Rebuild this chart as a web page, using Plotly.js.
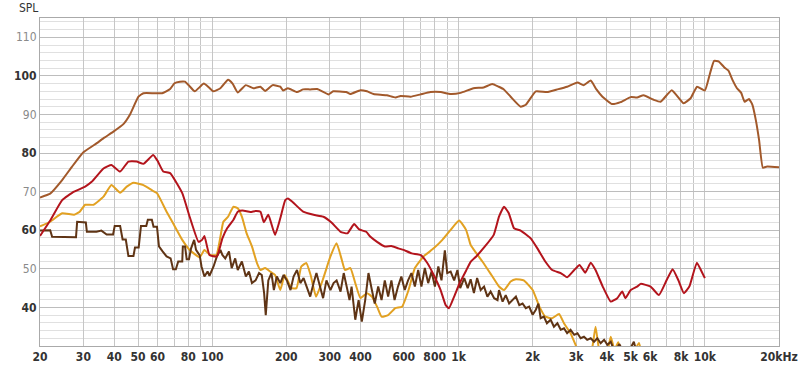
<!DOCTYPE html>
<html>
<head>
<meta charset="utf-8">
<script src="https://cdn.plot.ly/plotly-3.0.1.min.js"></script>
<style>html,body{margin:0;padding:0;background:#fff;}#chart{width:800px;height:370px;}</style>
</head>
<body>
<div id="chart"></div>
<script>
// ---- data ----
const freqA = [20,22,24.6,27,30,33.9,36.5,39.6,43.6,46.4,50.2,52.6,58,62.6,67.5,70.3,74,77.5,80.5,85,92.5,97,101,108,116,121,127,137,147,157,164,176,189,194,203,221,234,250,267,297,310,350,364,400,425,452,482,512,555,582,639,701,770,846,929,1020,1150,1265,1370,1455,1520,1628,1788,1875,2060,2285,2520,2760,3040,3220,3440,3630,3840,4200,4550,5000,5310,5640,6200,6614,7340,8200,8754,9300,10000,10500,10900,11400,12000,12450,12960,13500,14050,14500,15100,15600,16100,16600,17200,17900,20000];
const splA  = [68.5,69.5,73,76.5,80.2,82.5,84,85.5,87.5,90,94.6,95.5,95.5,95.5,96.6,98.1,98.5,98.5,97.5,96,98,97,96,96.8,99,98,95.7,97.6,96.8,97.2,96.1,97.6,97.2,96.2,96.8,95.8,96.5,96.5,96.6,95.2,96,95.8,95.3,96.3,96,95.3,95.1,95,94.4,94.8,94.6,95.2,95.8,95.8,95.3,95.6,96.8,97,97.9,97.2,96.6,94.6,92,92.5,96,95.8,96.5,97.2,98.3,97.6,98.8,96.5,94.6,92.7,93.2,94.5,94.4,95,93.8,93.3,96.3,92.9,94.2,97.2,96.2,100.7,103.9,103.7,102.2,101.4,98.9,96.8,95.6,93.3,94,92.5,88.6,83.4,76.2,76.5,76.3];

const freqB = [20,22,24.6,27.5,30.5,32.5,36.2,39,42.3,45.7,49.4,52.6,57.6,60,63.3,67.5,75.6,81,88,91,93,97.5,104.5,110,115,122,127,133,143,150,157,162,169,180,189,198,203,213,234,258,283,305,332,354,377,395,422,439,467,502,534,570,599,646,701,747,793,846,887,915,960,1006,1073,1120,1180,1280,1390,1460,1530,1600,1680,1788,1963,2090,2250,2400,2600,2760,2950,3100,3270,3440,3600,3850,4150,4410,4620,4760,5000,5310,5490,6024,6510,7000,7400,7800,8220,8650,9280,9700,10000];
const splB  = [58.5,62.5,67.8,70,71.3,72.6,76,76.9,75.2,77.8,77.8,77.2,79.5,78,75.2,74.8,69.6,63.5,57,57.5,58.5,53.6,53.2,57.9,60.5,62.7,64.8,65.1,64.7,65,64.8,62.1,64,58.8,63.1,67.8,68.2,67.2,64.8,64,63.5,62,59.6,59.2,61.6,60.2,59.6,58.3,57,55.8,55.9,55.3,54.9,54,53.6,51.5,48.4,44.5,40.6,39.8,42.8,46,49.5,51.8,53.2,55.8,58.8,63.5,66.1,64.4,60.5,59.9,57.9,55.3,51.9,49.7,48.9,47.8,49.7,51,49,51.6,49.7,45.4,41.5,42.4,44.1,42.4,44.5,45.4,46.1,45.4,43.2,47.1,49.9,47.1,43.7,45.4,51.6,49.3,47.6];

const freqC = [20,22,24.6,27.5,29,30.5,33,36.2,39,42.3,45,48,52.6,57.2,59.7,65.3,69.4,75.6,81,89,93,98,104,108,111,116,122,127,132,138,145,152,157,164,172,180,189,197,210,220,230,241,251,264,281,302,320,336,346,364,381,400,425,445,467,487,518,554,590,627,665,721,793,860,929,1006,1073,1120,1155,1250,1360,1460,1530,1628,1710,1840,2000,2130,2250,2400,2560,2680,2850,3000,3150,3350,3500,3600,3700,3800,4000,4150,4300,4450,4600,5000,5400,5600,6000];
const splC  = [61,62.2,64.4,64,64.8,66.6,66.6,68.7,71.7,69.7,71.3,72.3,71.7,70.3,69.6,64.8,61.8,57.5,54.9,53,54.9,53.6,53.6,58.3,62.2,63.5,66.1,65.7,63.5,59.2,55.8,51.5,49.7,50.2,49.3,48.4,44.5,48.4,45,45,50.6,51.5,48.4,42.8,47.1,53.2,56.6,52.3,49.7,50.2,46.3,42.4,43.7,42.8,40.2,37.6,38,39.8,40.2,44.5,50.2,53.2,55.3,57.5,60.1,62.5,60.1,56.2,54.9,51.9,48.4,45.4,44.5,46.7,47.3,47,44.5,40.2,37.6,37.2,38.3,35.9,33.3,30,27,26,30,35,30,27,28,32.4,29,31,28,27,30.8,27,25];

const freqD = [20,22,22.4,28,28.3,30.7,31,33.9,35.5,37.3,39.6,40.2,42.3,43.3,44.6,45.7,47.9,48.6,50.3,51.4,54,54.8,56.9,57.8,59.7,60.8,62.9,65.3,67.8,69.4,71.2,72.8,75.6,76,77.6,78.8,80.5,82.1,84.5,86,89,90.5,93,95.8,97.5,101.3,104.5,108,110,113,117,120,124,127,132,137,141,145,150,155,159,162.5,165,169,174,178,183,189,195,201,208,214,221,228,235,242,250,258,265,274,282,291,302,311,320,332,342,354,361,368,381,393,405,418,431,445,457,472,487,502,518,534,550,568,586,605,624,644,665,686,707,730,753,777,802,828,853,880,900,929,960,990,1016,1055,1090,1120,1155,1190,1230,1270,1310,1350,1395,1440,1460,1510,1555,1605,1660,1710,1765,1820,1875,1935,2000,2060,2110,2155,2220,2285,2366,2440,2520,2600,2680,2760,2850,2950,3040,3132,3230,3330,3440,3550,3660,3776,3900,4020,4150,4300,4500,4700,4900,5150,5300,5600];
const splD  = [59.9,60,58.3,58.2,62.2,62,59.6,59.6,59.9,58.9,58.9,61.1,61.1,57.6,57.6,53.3,53.3,55.5,55.5,61.1,61.1,62.7,62.7,60.9,60.9,55.8,54.5,53.2,52.7,49.9,49.9,51.9,51.9,55.8,55.8,52.5,52.5,55.3,57.5,54.9,53.5,50.6,48,49.3,48.2,50.6,53.2,54.9,53.6,52.7,54.5,50.2,52.7,49.7,51.9,48,49.3,46.3,47,48.9,48.4,43.7,38,47,48.9,44.5,48,46.3,48.4,47,44.5,48,49.7,46.3,47.6,45.4,42.8,46.3,48.9,45.4,42.4,47,44.5,46.3,47,44.1,48.9,44.5,41.9,45.4,36.8,41.9,36.3,41.9,48.9,44.5,41,45.4,41.9,47,42.8,47,41.9,45.4,48,44.5,47,48.9,45.4,49.7,45.4,50.2,46.3,49.3,45.4,50.6,47,54.8,48.9,49.3,47,49.7,45,47.6,45,47.3,43.7,47.6,44.5,45.4,42.8,44.1,42.4,41.9,44.5,41.5,43.2,41,41.9,42.8,40.6,41,39.8,40.2,38.1,39.4,41,37.2,37.6,35.9,36.8,35,35.9,34.2,34.6,33.3,34.2,32.9,33.3,32,32.4,31.6,32,31.1,32,30.7,31.6,30.3,31.1,28.5,30.5,28,28.5,31.1,28,26];

const xTickVals = [20,30,40,50,60,80,100,200,300,400,600,800,1000,2000,3000,4000,5000,6000,8000,10000,20000];
const xTickText = ['20','30','40','50','60','80','100','200','300','400','600','800','1k','2k','3k','4k','5k','6k','8k','10k','20kHz'];
const xMinorGrid = [70,90,700,900,7000,9000];
const xDecadeLines = [100,1000,10000];
const yTickVals = [40,50,60,70,80,90,100,110];
const yTickText = ['40','50','60','70','80','90','100','110'];

// ---- styling ----
const colA = '#a2592b', colB = '#b3141c', colC = '#e2a122', colD = '#5f3415';
function tr(x, y, c) {
  return {x: x, y: y, type: 'scatter', mode: 'lines', line: {color: c, width: 2, shape: 'spline', smoothing: 0.4}, hoverinfo: 'skip', showlegend: false};
}
const traces = [tr(freqC, splC, colC), tr(freqD, splD, colD), tr(freqB, splB, colB), tr(freqA, splA, colA)];
traces[1].line.shape = 'linear';

const yText = yTickText.map((t, i) => (yTickVals[i] % 20 === 0)
  ? '<b>' + t + '</b>'
  : '<span style="color:#8a8a8a">' + t + '</span>');
const xText = xTickText.map(t => '<b>' + t + '</b>');

const shapes = xDecadeLines.map(f => ({
  type: 'line', layer: 'between', xref: 'x', yref: 'paper',
  x0: Math.log10(f), x1: Math.log10(f), y0: 0, y1: 1,
  line: {color: '#7c7c7c', width: 1}
}));

const font = {family: '"Liberation Sans Narrow", "DejaVu Sans Condensed", sans-serif', size: 12, color: '#333'};

const layout = {
  width: 800, height: 370,
  margin: {l: 40, r: 21, t: 18, b: 24},
  paper_bgcolor: '#fff', plot_bgcolor: '#fff',
  font: font,
  showlegend: false,
  xaxis: {
    type: 'log', range: [Math.log10(20), Math.log10(20000)],
    tickmode: 'array', tickvals: xTickVals, ticktext: xText,
    showgrid: true, gridcolor: '#c6c6c6', gridwidth: 1,
    minor: {tickmode: 'array', tickvals: xMinorGrid, showgrid: true, gridcolor: '#c6c6c6', ticks: ''},
    ticks: '', showline: true, linecolor: '#aaaaaa', linewidth: 1, mirror: true,
    zeroline: false, tickfont: {family: font.family, size: 12, color: '#333'}
  },
  yaxis: {
    range: [30, 115],
    tickmode: 'array', tickvals: yTickVals, ticktext: yText,
    showgrid: true, gridcolor: '#bdbdbd', gridwidth: 1,
    minor: {dtick: 2, tick0: 30, showgrid: true, gridcolor: '#e0e0e0', ticks: ''},
    ticks: '', showline: true, linecolor: '#aaaaaa', linewidth: 1, mirror: true,
    zeroline: false, tickfont: {family: font.family, size: 12, color: '#333'}
  },
  shapes: shapes,
  annotations: [{
    text: 'SPL', xref: 'paper', yref: 'paper', x: -0.016, y: 1.031,
    xanchor: 'center', yanchor: 'middle', showarrow: false,
    font: {family: font.family, size: 12, color: '#333'}
  }]
};

Plotly.newPlot('chart', traces, layout, {staticPlot: true, displayModeBar: false});
</script>
</body>
</html>
